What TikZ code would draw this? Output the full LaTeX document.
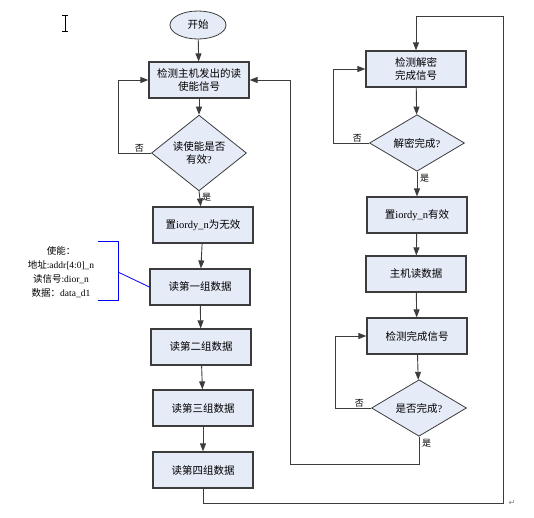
\documentclass[tikz,border=0pt]{standalone}
\usepackage{fontspec}
\setmainfont{Liberation Serif}
\newfontfamily\cjk{Noto Sans CJK SC}
\newfontfamily\symb{DejaVu Sans}
\newcommand{\lat}[1]{{\rmfamily #1}}
\usetikzlibrary{shapes.geometric, arrows.meta, positioning}

\definecolor{boxfill}{RGB}{230,235,248}
\definecolor{edge}{RGB}{60,60,60}

\begin{document}
\begin{tikzpicture}[
        x=1pt, y=-1pt,
        font=\fontsize{10.5}{13.5}\selectfont\cjk,
        stepbox/.style={draw=edge, line width=1.2pt, fill=boxfill,
            minimum width=100pt, minimum height=36pt, inner sep=1pt, align=center},
        ask/.style={diamond, draw=edge, line width=0.8pt, fill=boxfill,
            minimum width=95pt, minimum height=56pt, inner sep=0pt, align=center},
        arr/.style={-{Triangle[length=8pt, width=6pt]}, line width=0.9pt, draw=edge},
        tag/.style={font=\fontsize{9}{11}\selectfont\cjk, inner sep=1pt}
    ]
    \useasboundingbox (0,0) rectangle (534,517);

    % left column
    \node[ellipse, draw=edge, line width=0.8pt, fill=boxfill,
        minimum width=56pt, minimum height=28pt, inner sep=0pt] (start) at (198,25) {开始};
    \node[stepbox] (chk) at (199,80) {检测主机发出的读\\使能信号};
    \node[ask] (valid) at (199,153) {读使能是否\\有效\lat{?}};
    \node[stepbox] (off) at (203,225) {置\lat{iordy\_n}为无效};
    \node[stepbox] (grp1) at (200,287) {读第一组数据};
    \node[stepbox] (grp2) at (201,347) {读第二组数据};
    \node[stepbox] (grp3) at (203,408) {读第三组数据};
    \node[stepbox] (grp4) at (203,470) {读第四组数据};

    % right column
    \node[stepbox] (dec) at (416,69) {检测解密\\完成信号};
    \node[ask] (decok) at (417,143) {解密完成\lat{?}};
    \node[stepbox] (on) at (417,215) {置\lat{iordy\_n}有效};
    \node[stepbox] (host) at (416,274) {主机读数据};
    \node[stepbox] (done) at (417,336) {检测完成信号};
    \node[ask] (fin) at (419,408) {是否完成\lat{?}};

    % corners of the long return lines
    \coordinate (loopA) at (118,0);
    \coordinate (loopB) at (333,0);
    \coordinate (loopC) at (335,0);
    \coordinate (se) at (503,503);
    \coordinate (ne) at (503,16);
    \coordinate (back) at (290,464);

    % left flow
    \draw[arr] (start) -- (chk);
    \draw[arr] (chk) -- (valid);
    \draw[arr] (valid.west) -- (valid.west -| loopA) |- (chk.west);
    \node[tag, above left=0pt and 6pt of valid.west] (noA) {否};
    \draw[arr] (valid.south) -- (off);
    \node[tag, below right=1pt and 2pt of valid.south] (yesA) {是};
    \draw[arr] (off) -- (grp1);
    \draw[arr] (grp1) -- (grp2);
    \draw[arr] (grp2) -- (grp3);
    \draw[arr] (grp3) -- (grp4);
    \draw[arr] (grp4.south) |- (se) -- (ne) -| (dec.north);

    % right flow
    \draw[arr] (dec) -- (decok);
    \draw[arr] (decok.west) -- (decok.west -| loopB) |- (dec.west);
    \node[tag, above left=0pt and 6pt of decok.west] (noB) {否};
    \draw[arr] (decok.south) -- (on);
    \node[tag, below right=1pt and 2pt of decok.south] (yesB) {是};
    \draw[arr] (on) -- (host);
    \draw[arr] (host) -- (done);
    \draw[arr] (done) -- (fin);
    \draw[arr] (fin.west) -- (fin.west -| loopC) |- (done.west);
    \node[tag, above left=0pt and 6pt of fin.west] (noC) {否};
    \node[tag, below right=1pt and 2pt of fin.south] (yesC) {是};
    \draw[arr] (fin.south) |- (back) |- (chk.east);

    % signal note
    \node[font=\fontsize{9.5}{14}\selectfont\cjk, align=center] (note) at (61,272)
        {使能：\\地址\lat{:addr[4:0]\_n}\\读信号\lat{:dior\_n}\\数据：\lat{data\_d1}};
    \coordinate (brk) at (118,272);
    \draw[blue, line width=0.8pt] (98,241) -- (118,241) -- (118,300) -- (98,300);
    \draw[blue, line width=0.8pt] (brk) -- (grp1.west);

    % editor marks
    \draw[line width=0.6pt] (62,15) -- (68,15) (65,15) -- (65,31) (62,31) -- (68,31);
    \node[font=\fontsize{8}{8}\selectfont\symb, gray] (para) at (512,503) {↵};
\end{tikzpicture}
\end{document}
